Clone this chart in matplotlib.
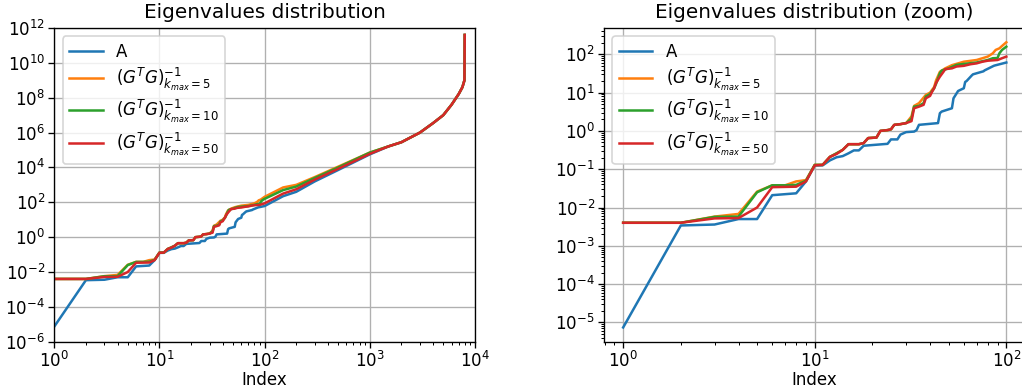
import numpy as np
import matplotlib.pyplot as plt
from matplotlib.ticker import LogLocator

# sorted eigenvalues (index -> value)
tail_idx = [1500, 2000, 3000, 4000, 5000, 6000, 7000, 7600, 7950, 8000]
tail_val = [1.6e5, 2.8e5, 1e6, 3.5e6, 1e7, 4e7, 1.6e8, 4e8, 1e9, 4e11]

idx_A = [1, 2, 3, 4, 5, 6, 8, 9, 10, 11, 12, 13, 14, 15, 16, 17, 18, 24, 25, 27,
         28, 30, 33, 34, 35, 44, 45, 46, 52, 53, 56, 57, 60, 61, 62, 66, 67, 76,
         77, 86, 87, 100, 150, 200, 300, 500, 1000]
val_A = [7.4e-6, 3.4e-3, 3.6e-3, 5.0e-3, 5.0e-3, 2.1e-2, 2.35e-2, 4.8e-2, 0.125,
         0.126, 0.17, 0.205, 0.22, 0.26, 0.31, 0.31, 0.41, 0.46, 0.6, 0.6, 0.8,
         0.93, 0.96, 1.05, 1.44, 1.6, 2.9, 3.2, 3.9, 7.1, 11, 11.5, 13, 19, 20,
         28, 30, 36, 38, 50, 51, 61, 224, 400, 1580, 7.1e3, 5.6e4]

idx_k5 = [1, 2, 3, 4, 5, 6, 7, 8, 9, 10, 11, 12, 13, 14, 15, 17, 18, 19, 21, 22,
          24, 25, 26, 28, 30, 32, 33, 35, 38, 40, 42, 43, 45, 48, 52, 60, 70, 80,
          85, 88, 92, 95, 100, 150, 200, 300, 500, 1000]
val_k5 = [4.0e-3, 4.0e-3, 5.8e-3, 6.8e-3, 2.6e-2, 3.8e-2, 3.8e-2, 4.8e-2, 5.2e-2,
          0.13, 0.13, 0.21, 0.26, 0.32, 0.45, 0.45, 0.48, 0.65, 0.67, 1.0, 1.05,
          1.1, 1.44, 1.5, 1.6, 2.4, 4.5, 5.3, 8.7, 10, 14, 21, 35, 43, 52, 64, 71,
          87, 106, 130, 143, 165, 206, 710, 1000, 2800, 1.1e4, 7.1e4]

idx_k10 = [1, 2, 3, 4, 5, 6, 7, 8, 9, 10, 11, 12, 13, 14, 15, 17, 18, 19, 21, 22,
           24, 25, 26, 28, 30, 32, 33, 35, 37, 38, 40, 42, 43, 45, 46, 50, 55, 60,
           70, 80, 85, 90, 92, 95, 100, 150, 200, 300, 500, 1000]
val_k10 = [4.0e-3, 4.0e-3, 5.7e-3, 5.8e-3, 2.5e-2, 3.8e-2, 3.8e-2, 3.9e-2, 5.0e-2,
           0.13, 0.13, 0.21, 0.26, 0.32, 0.45, 0.45, 0.48, 0.65, 0.67, 1.0, 1.05,
           1.1, 1.44, 1.5, 1.6, 2.1, 4.3, 4.5, 5.3, 7.9, 9.2, 13, 17, 32, 37.5, 43,
           53, 56, 61, 71, 79, 80, 106, 130, 158, 500, 800, 2500, 1e4, 7.1e4]

idx_k50 = [1, 2, 3, 4, 5, 6, 8, 9, 10, 11, 12, 13, 14, 15, 17, 18, 19, 21, 22, 24,
           25, 26, 28, 30, 32, 33, 35, 37, 38, 40, 41, 42, 43, 45, 47, 48, 52, 55,
           60, 65, 70, 75, 80, 90, 95, 100, 150, 200, 300, 500, 1000]
val_k50 = [4.0e-3, 4.0e-3, 5.2e-3, 5.3e-3, 1.0e-2, 3.4e-2, 3.5e-2, 4.8e-2, 0.126,
           0.13, 0.21, 0.25, 0.32, 0.45, 0.45, 0.48, 0.65, 0.67, 1.0, 1.05, 1.1,
           1.44, 1.5, 1.6, 1.8, 3.9, 4.3, 4.8, 7.1, 8.2, 10.6, 13, 18, 26, 35, 41,
           43, 48, 50, 55, 58, 64, 68, 71, 79, 87, 316, 560, 2000, 8.3e3, 6.0e4]

labels = ['A',
          r'$(G^TG)^{-1}_{k_{max}=5}$',
          r'$(G^TG)^{-1}_{k_{max}=10}$',
          r'$(G^TG)^{-1}_{k_{max}=50}$']
series = [(idx_A, val_A), (idx_k5, val_k5), (idx_k10, val_k10), (idx_k50, val_k50)]

fig = plt.figure(figsize=(1022 / 120, 388 / 120), dpi=120)
ax1 = fig.add_axes([0.0531, 0.1193, 0.4116, 0.8085])
ax2 = fig.add_axes([0.591, 0.1193, 0.4124, 0.8085])

for (ix, v), lab in zip(series, labels):
    x = np.array(ix + tail_idx)
    y = np.array(v + tail_val)
    ax1.loglog(x, y, label=lab)
    m = x <= 100
    ax2.loglog(x[m], y[m], label=lab)

ax1.set_xlim(1, 1e4)
ax1.set_ylim(1e-6, 1e12)
ax1.set_yticks([10.0 ** k for k in range(-6, 13, 2)])
ax1.set_title('Eigenvalues distribution')
ax2.set_title('Eigenvalues distribution (zoom)')
ax2.yaxis.set_major_locator(LogLocator(numticks=20))

for ax in (ax1, ax2):
    ax.set_xlabel('Index', labelpad=0)
    ax.tick_params(axis='both', which='major', pad=2)
    ax.grid()
    ax.legend(loc='upper left', labelspacing=0.3)

fig.savefig('out.png', dpi=120)
